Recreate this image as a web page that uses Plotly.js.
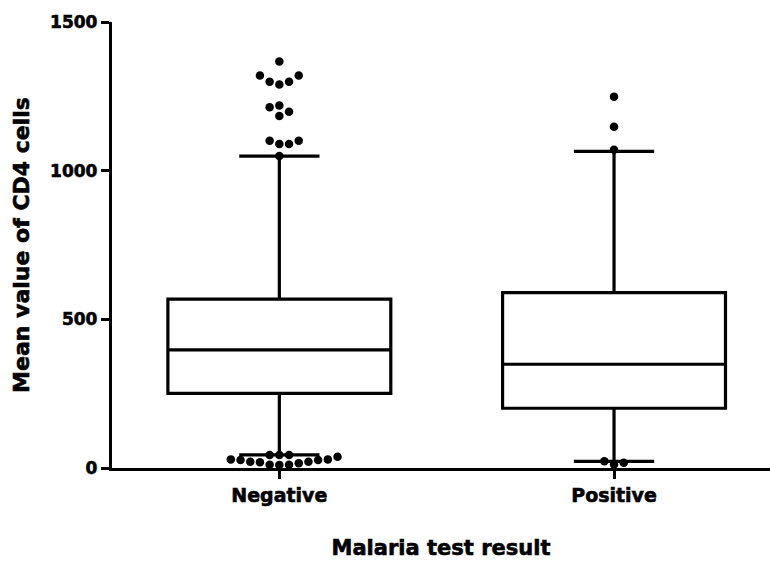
<!DOCTYPE html>
<html>
<head>
<meta charset="utf-8">
<script src="https://cdn.plot.ly/plotly-3.0.1.min.js"></script>
<style>
html,body{margin:0;padding:0;background:#fff;}
#chart{width:770px;height:570px;}
#chart .xtick text, #chart .ytick text, #chart .g-xtitle text, #chart .g-ytitle text{stroke:#000;stroke-width:0.6px;}
</style>
</head>
<body>
<div id="chart"></div>
<script>
// ---- data ----
const categories = ['Negative', 'Positive'];
const q1Values = [251, 201];
const medianValues = [397, 349];
const q3Values = [568, 590];
const lowerWhisker = [44, 22];
const upperWhisker = [1049, 1065];
const negativeOutliers = [10, 11, 11, 16, 19, 21, 21, 27, 27, 29, 29, 38, 44, 44, 44,
  1049, 1090, 1090, 1101, 1101, 1184, 1198, 1213, 1219, 1290, 1299, 1299, 1320, 1320, 1367];
const positiveOutliers = [12, 18, 23, 1070, 1148, 1249];
const yTicks = [0, 500, 1000, 1500];
const outlierSets = [negativeOutliers, positiveOutliers];

// ---- layout geometry ----
const W = 770, H = 570;
const margin = {l: 112, r: 0, t: 22, b: 102};
const xRange = [-0.5, 1.466];
const yRange = [0, 1500];
const pxPerX = (W - margin.l - margin.r) / (xRange[1] - xRange[0]);
const pxPerY = (H - margin.t - margin.b) / (yRange[1] - yRange[0]);

// simple deterministic beeswarm (column offsets chosen to avoid overlap)
function swarm(values, center) {
  const step = 9.7, minDist = 9.5;
  const placed = [];
  const sorted = values.slice().sort((a, b) => a - b);
  const xs = [], ys = [];
  sorted.forEach(v => {
    const py = v * pxPerY;
    for (let k = 0; k < 200; k++) {
      const col = k === 0 ? 0 : (k % 2 === 1 ? (k + 1) / 2 : -k / 2);
      const px = col * step;
      const ok = placed.every(p => Math.hypot(p[0] - px, p[1] - py) >= minDist);
      if (ok) {
        placed.push([px, py]);
        xs.push(center + px / pxPerX);
        ys.push(v);
        break;
      }
    }
  });
  return {xs, ys};
}

const font = {family: 'DejaVu Sans, Arial, sans-serif', color: '#000', weight: 'bold'};
const traces = [];
categories.forEach((c, i) => {
  traces.push({
    type: 'box',
    x: [i],
    q1: [q1Values[i]],
    median: [medianValues[i]],
    q3: [q3Values[i]],
    lowerfence: [lowerWhisker[i]],
    upperfence: [upperWhisker[i]],
    width: 0.666,
    whiskerwidth: 0.36,
    boxpoints: false,
    fillcolor: '#ffffff',
    line: {color: '#000000', width: 3.2},
    hoverinfo: 'skip',
    showlegend: false,
    name: c
  });
});
outlierSets.forEach((set, i) => {
  const s = swarm(set, i);
  traces.push({
    type: 'scatter',
    mode: 'markers',
    x: s.xs,
    y: s.ys,
    marker: {color: '#000000', size: 8.5, line: {width: 0}},
    cliponaxis: false,
    showlegend: false,
    hoverinfo: 'skip'
  });
});

const layout = {
  width: W, height: H,
  margin: margin,
  paper_bgcolor: '#ffffff',
  plot_bgcolor: '#ffffff',
  showlegend: false,
  xaxis: {
    range: xRange,
    tickvals: [0, 1],
    ticktext: categories,
    ticks: 'outside', ticklen: 8, tickwidth: 3, tickcolor: '#000',
    showline: true, linewidth: 3.2, linecolor: '#000',
    showgrid: false, zeroline: false,
    tickfont: Object.assign({size: 19}, font),
    title: {text: 'Malaria test result', font: Object.assign({size: 21}, font), standoff: 36}
  },
  yaxis: {
    range: yRange,
    tickvals: yTicks,
    ticktext: yTicks.map(String),
    ticks: 'outside', ticklen: 8, tickwidth: 3, tickcolor: '#000',
    showline: true, linewidth: 3.2, linecolor: '#000',
    showgrid: false, zeroline: false,
    tickfont: Object.assign({size: 17}, font),
    title: {text: 'Mean value of CD4 cells', font: Object.assign({size: 22}, font), standoff: 15}
  }
};

Plotly.newPlot('chart', traces, layout, {displayModeBar: false, staticPlot: true});
</script>
</body>
</html>
